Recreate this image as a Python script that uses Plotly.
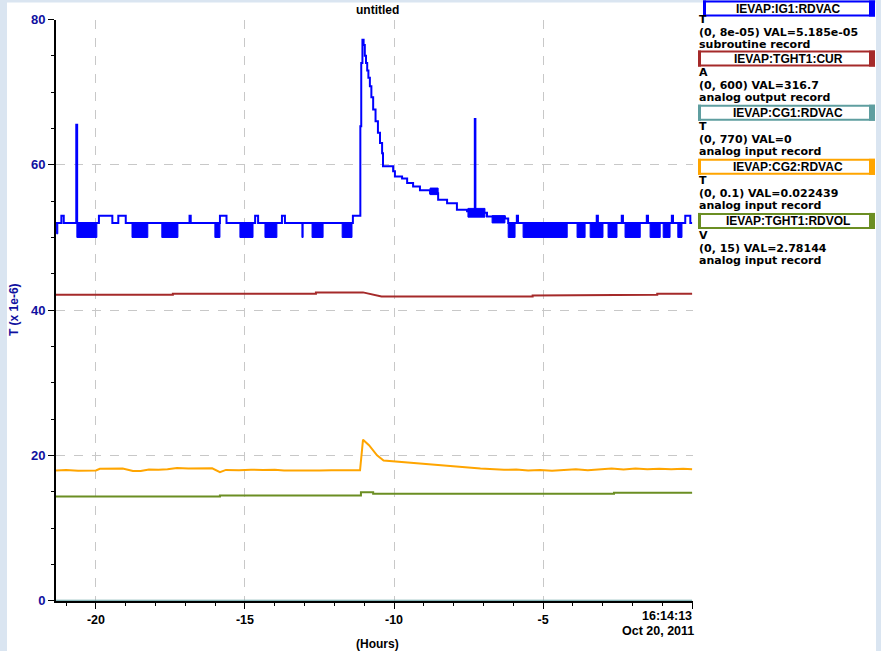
import plotly.graph_objects as go

W, H = 881, 651

# ---------------- data ----------------
# IEVAP:IG1:RDVAC (blue), hours vs value (x 1e-6)
blue_t = [-21.34, -21.16, -21.08, -20.66, -20.63, -19.90, -19.45, -19.25, -19.00, -16.86,
          -16.82, -15.84, -15.62, -14.66, -14.56, -13.76, -13.66, -11.38, -11.13, -11.10,
          -11.06, -11.02, -10.98, -10.94, -10.90, -10.86, -10.81, -10.76, -10.70, -10.62,
          -10.54, -10.47, -10.40, -10.37, -10.03, -9.97, -9.73, -9.56, -9.36, -9.13,
          -8.79, -8.52, -8.22, -7.89, -7.55, -7.29, -7.27, -6.88, -6.28, -6.17,
          -5.88, -5.84, -3.20, -3.16, -2.36, -2.32, -1.52, -1.48, -0.68, -0.64,
          -0.23, -0.06, 0.0]
blue_v = [52.0, 53.0, 52.0, 65.5, 52.0, 53.0, 52.0, 53.0, 52.0, 53.0,
          52.0, 53.0, 52.0, 53.0, 52.0, 53.0, 52.0, 53.0, 65.3, 74.0,
          77.2, 76.5, 75.0, 74.0, 73.0, 72.0, 70.8, 69.3, 67.6, 66.0,
          64.4, 63.0, 61.6, 59.8, 59.1, 58.4, 58.1, 57.5, 57.0, 56.5,
          56.1, 55.2, 54.7, 53.8, 53.6, 66.3, 53.4, 52.9, 52.6, 52.0,
          53.0, 52.0, 53.0, 52.0, 53.0, 52.0, 53.0, 52.0, 53.0, 52.0,
          53.0, 52.0, 52.0]
# dense noisy stretches of the blue trace (min / max envelope)
band_start = [-21.32, -20.64, -18.79, -17.79, -16.01, -15.17, -14.33, -13.09, -12.75, -11.74,
              -8.79, -7.52, -6.71, -6.17, -5.67, -3.86, -3.42, -2.82, -2.25, -1.41, -0.97, -0.48]
band_end = [-21.28, -19.97, -18.26, -17.25, -15.84, -14.73, -13.93, -13.05, -12.38, -11.41,
            -8.52, -6.95, -6.28, -5.94, -4.19, -3.59, -2.99, -2.52, -1.74, -1.07, -0.74, -0.34]
band_lo = [50.5, 50.0, 50.0, 50.0, 50.0, 50.0, 50.0, 50.0, 50.0, 50.0,
           55.9, 52.8, 52.0, 50.0, 50.0, 50.0, 50.0, 50.0, 50.0, 50.0, 50.0, 50.0]
band_hi = [52.0, 52.0, 52.0, 52.0, 52.0, 52.0, 52.0, 52.0, 52.0, 52.0,
           56.8, 54.0, 53.0, 52.0, 52.0, 52.0, 52.0, 52.0, 52.0, 52.0, 52.0, 52.0]

# IEVAP:TGHT1:CUR (brown)
red_t = [-21.34, -17.42, -17.42, -12.62, -12.62, -11.04, -10.42, -5.35, -5.35, -3.42, -3.42, -1.17, -1.17, 0.0]
red_v = [42.12, 42.12, 42.26, 42.26, 42.44, 42.44, 41.88, 41.88, 42.02, 42.02, 42.12, 42.12, 42.26, 42.26]

# IEVAP:CG1:RDVAC (cadet blue)
cg1_t = [-21.34, 0.0]
cg1_v = [0.0, 0.0]

# IEVAP:CG2:RDVAC (orange)
orange_t = [-21.34, -21.0, -20.6, -20.3, -20.0, -19.87, -19.5, -19.1, -18.76, -18.5,
            -18.22, -17.9, -17.6, -17.28, -16.9, -16.5, -16.1, -15.84, -15.64, -15.2,
            -14.8, -14.4, -14.0, -13.69, -13.3, -12.9, -12.5, -12.1, -11.7, -11.4,
            -11.14, -11.04, -10.84, -10.57, -10.35, -9.73, -9.06, -8.4, -7.82, -7.1,
            -6.31, -5.9, -5.5, -5.1, -4.7, -4.3, -3.9, -3.5, -3.1, -2.7,
            -2.3, -1.9, -1.5, -1.1, -0.7, -0.3, 0.0]
orange_v = [17.93, 18.0, 17.88, 17.95, 17.93, 18.16, 18.12, 18.18, 17.84, 17.86,
            18.07, 18.02, 18.08, 18.25, 18.2, 18.26, 18.22, 17.7, 18.0, 17.96,
            18.04, 17.98, 18.02, 17.93, 17.9, 17.96, 17.92, 17.95, 17.9, 17.94,
            17.95, 22.16, 21.4, 20.0, 19.3, 19.08, 18.85, 18.6, 18.39, 18.2,
            18.02, 18.06, 17.92, 18.0, 17.9, 18.05, 18.1, 17.95, 18.1, 18.18,
            18.05, 18.2, 18.1, 18.15, 18.08, 18.16, 18.1]

# IEVAP:TGHT1:RDVOL (olive)
green_t = [-21.34, -15.84, -15.84, -11.11, -11.11, -10.70, -10.70, -2.62, -2.62, 0.0]
green_v = [14.34, 14.34, 14.48, 14.48, 14.94, 14.94, 14.71, 14.71, 14.85, 14.85]

x_ticks = [-20, -15, -10, -5, 0]
x_tick_text = ["-20", "-15", "-10", "-5", ""]
y_ticks = [0, 20, 40, 60, 80]

legend_names = ["IEVAP:IG1:RDVAC", "IEVAP:TGHT1:CUR", "IEVAP:CG1:RDVAC", "IEVAP:CG2:RDVAC", "IEVAP:TGHT1:RDVOL"]
legend_units = ["T", "A", "T", "T", "V"]
legend_ranges = ["(0, 8e-05) VAL=5.185e-05", "(0, 600) VAL=316.7", "(0, 770) VAL=0",
                 "(0, 0.1) VAL=0.022439", "(0, 15) VAL=2.78144"]
legend_types = ["subroutine record", "analog output record", "analog input record",
                "analog input record", "analog input record"]
colors = ["#0000ff", "#a52a2a", "#5f9ea0", "#ffa500", "#6b8e23"]

# ---------------- layout helpers ----------------
# target pixel -> paper fraction (the viewer shows the page slightly squeezed vertically)
def px(x):
    return x / W

def py(y):
    yf = (y - 7.5) / 0.975
    return 1 - yf / H

FONT = "Liberation Sans"
WIDE = "DejaVu Sans"
fig = go.Figure()

# blue noise envelope
bx, by = [], []
for s, e, lo, hi in zip(band_start, band_end, band_lo, band_hi):
    bx += [s, s, e, e, s, None]
    by += [hi, lo, lo, hi, hi, None]
fig.add_trace(go.Scatter(x=bx, y=by, mode="lines", fill="toself", fillcolor=colors[0],
                         line=dict(color=colors[0], width=1), hoverinfo="skip", showlegend=False))
fig.add_trace(go.Scatter(x=blue_t, y=blue_v, mode="lines", line=dict(color=colors[0], width=2, shape="hv"),
                         showlegend=False))
fig.add_trace(go.Scatter(x=red_t, y=red_v, mode="lines", line=dict(color=colors[1], width=2), showlegend=False))
fig.add_trace(go.Scatter(x=orange_t, y=orange_v, mode="lines", line=dict(color=colors[3], width=2), showlegend=False))
fig.add_trace(go.Scatter(x=green_t, y=green_v, mode="lines", line=dict(color=colors[4], width=2), showlegend=False))
fig.add_trace(go.Scatter(x=cg1_t, y=cg1_v, mode="lines", line=dict(color=colors[2], width=2), showlegend=False))

shapes = []
# light blue window border strips
for (x0, y0, x1, y1) in [(0, -20, 7, H + 20), (0, -20, W, 3), (876, -20, W, H + 20)]:
    shapes.append(dict(type="rect", xref="paper", yref="paper", x0=px(x0), x1=px(x1), y0=py(y1), y1=py(y0),
                       fillcolor="#dae5f1", line=dict(width=0), layer="below"))

annotations = []
title_y = [9, 59, 113, 167, 221]
box_left = [703, 698, 698, 698, 698]
for i in range(5):
    ty = title_y[i]
    top, bot = ty - 7, ty + 7
    shapes.append(dict(type="rect", xref="paper", yref="paper", x0=px(box_left[i] + 1), x1=px(874),
                       y0=py(bot), y1=py(top), line=dict(color=colors[i], width=2), fillcolor="white"))
    shapes.append(dict(type="rect", xref="paper", yref="paper", x0=px(box_left[i]), x1=px(box_left[i] + 3),
                       y0=py(bot + 1), y1=py(top - 1), line=dict(width=0), fillcolor=colors[i]))
    shapes.append(dict(type="rect", xref="paper", yref="paper", x0=px(869), x1=px(875),
                       y0=py(bot + 1), y1=py(top - 1), line=dict(width=0), fillcolor=colors[i]))
    annotations.append(dict(text=legend_names[i], xref="paper", yref="paper", x=px(788), y=py(ty + 0.5),
                            xanchor="center", yanchor="middle", showarrow=False,
                            font=dict(family=FONT, size=12, color="black", weight="bold")))
    off = 11 if i == 0 else 14
    body = "<br>".join("<span style='font-size:11px'>%s</span>" % t
                       for t in (legend_units[i], legend_ranges[i], legend_types[i]))
    annotations.append(dict(text=body, xref="paper", yref="paper", x=px(697), y=py(ty + off + 12.6),
                            xanchor="left", yanchor="middle", showarrow=False, align="left",
                            font=dict(family=WIDE, size=9.75, color="black", weight="bold")))

annotations += [
    dict(text="untitled", xref="paper", yref="paper", x=px(377), y=py(10), xanchor="center", yanchor="middle",
         showarrow=False, font=dict(family=FONT, size=12, color="black", weight="bold")),
    dict(text="(Hours)", xref="paper", yref="paper", x=px(377), y=py(643), xanchor="center", yanchor="middle",
         showarrow=False, font=dict(family=FONT, size=12, color="black", weight="bold")),
    dict(text="16:14:13", xref="paper", yref="paper", x=px(694), y=py(615), xanchor="right", yanchor="middle",
         showarrow=False, font=dict(family=FONT, size=12.5, color="black", weight="bold")),
    dict(text="Oct 20, 2011", xref="paper", yref="paper", x=px(696), y=py(630), xanchor="right", yanchor="middle",
         showarrow=False, font=dict(family=FONT, size=12.5, color="black", weight="bold")),
    dict(text="T (x 1e-6)", xref="paper", yref="paper", x=px(14), y=py(310), xanchor="center", yanchor="middle",
         textangle=-90, showarrow=False, font=dict(family=FONT, size=12, color="#1010a0", weight="bold")),
]

fig.update_layout(
    width=W, height=H, autosize=False,
    margin=dict(l=0, r=0, t=0, b=0),
    paper_bgcolor="white", plot_bgcolor="white",
    shapes=shapes, annotations=annotations,
    xaxis=dict(domain=[px(56), px(693)], range=[-21.34, 0.03], tickvals=x_ticks, ticktext=x_tick_text,
               ticks="outside", ticklen=6, tickwidth=1, tickcolor="black",
               showline=True, linecolor="black", linewidth=2, zeroline=False,
               showgrid=True, gridcolor="#c8c8c8", griddash="dash", gridwidth=1,
               tickfont=dict(family=FONT, size=12.5, color="black", weight="bold"),
               minor=dict(dtick=1, tick0=0, ticks="outside", ticklen=3, tickcolor="black", showgrid=False)),
    yaxis=dict(domain=[py(600), py(20)], range=[0, 80], tickvals=y_ticks,
               ticks="outside", ticklen=6, tickwidth=1, tickcolor="black",
               showline=True, linecolor="black", linewidth=2, zeroline=False,
               showgrid=True, gridcolor="#c8c8c8", griddash="dash", gridwidth=1,
               tickfont=dict(family=FONT, size=13, color="#1010a0", weight="bold"),
               minor=dict(dtick=5, tick0=0, ticks="outside", ticklen=3, tickcolor="black", showgrid=False)),
)

fig.write_html("out.html")
